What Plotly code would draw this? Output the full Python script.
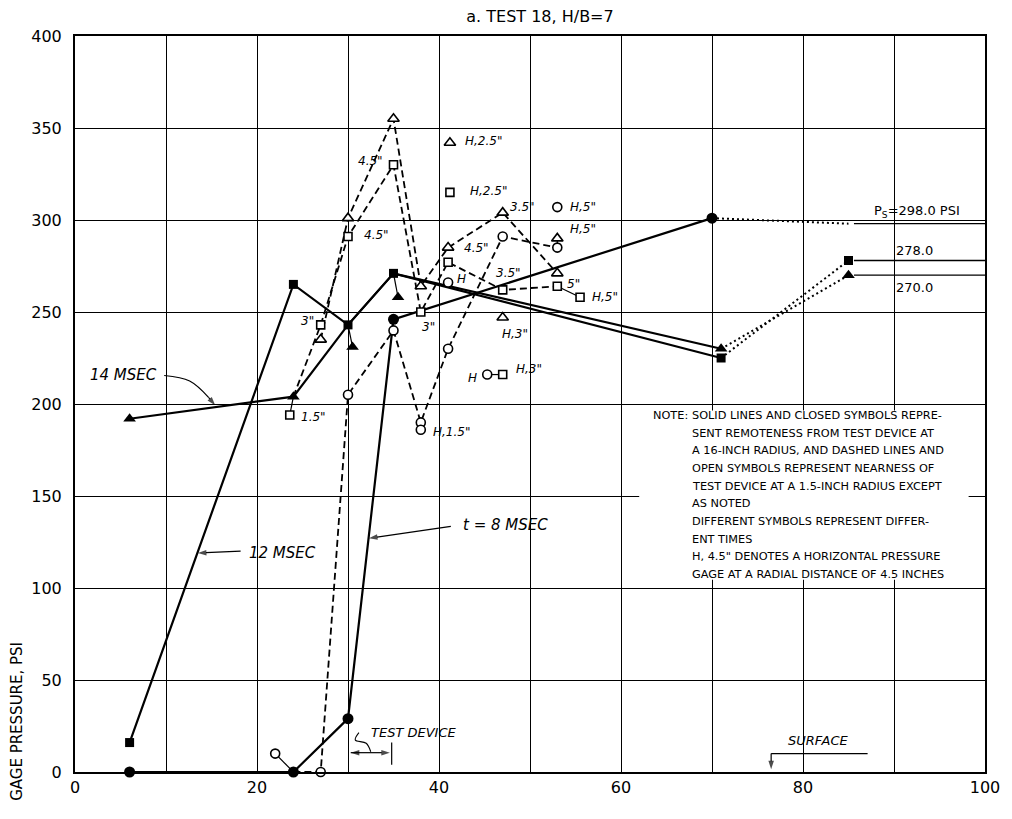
import plotly.graph_objects as go

# ---------------- data ----------------
# closed symbols, 16-inch radius (solid lines)
t8_x = [6, 24, 30, 35, 70]
t8_y = [0, 0, 29, 246, 301]
t12_x = [6, 24, 30, 35, 71]
t12_y = [16, 265, 243, 271, 225]
t14_x = [6, 24, 30, 35, 71]
t14_y = [192, 204, 243, 271, 230]

# surface readings (free-field values)
surface_x = 85
ps_t8 = 298.0
ps_t12 = 278.0
ps_t14 = 270.0

# open symbols, 1.5-inch radius (dashed lines)
oc_x = [24, 27, 30, 35, 38, 41, 47, 53]
oc_y = [0, 0, 205, 240, 190, 230, 291, 285]
ot_x = [27, 30, 35, 38, 41, 47, 53]
ot_y = [235, 301, 355, 264, 285, 304, 271]
os_x = [24, 27, 30, 35, 38, 41, 47, 53]
os_y = [204, 243, 291, 330, 250, 277, 262, 264]

# horizontal gages (stand-alone open symbols)
hc_x = [53, 41, 38, 45.3]
hc_y = [307, 266, 186, 216]
ht_x = [41.2, 53, 47]
ht_y = [342, 290, 247]
hs_x = [41.2, 47, 55.5]
hs_y = [315, 216, 258]

x_ticks = [0, 20, 40, 60, 80, 100]
x_tick_text = ["0", "20", "40", "60", "80", "100"]
y_ticks = [0, 50, 100, 150, 200, 250, 300, 350, 400]

# ---------------- drawing helpers ----------------
FONT = "DejaVu Sans"
fig = go.Figure()


def add_line(x, y, dash="solid", width=2.2, shape="linear"):
    fig.add_trace(go.Scatter(x=x, y=y, mode="lines", showlegend=False,
                             hoverinfo="skip",
                             line=dict(color="black", width=width, dash=dash,
                                       shape=shape)))


def add_marks(x, y, symbol, size, filled=True):
    fig.add_trace(go.Scatter(
        x=x, y=y, mode="markers", showlegend=False, hoverinfo="skip",
        cliponaxis=False,
        marker=dict(symbol=symbol, size=size,
                    color="black" if filled else "white",
                    line=dict(color="black", width=0 if filled else 1.6))))


def label(x, y, text, size=12, italic=True, xanchor="center"):
    fig.add_annotation(x=x, y=y, text=f"<i>{text}</i>" if italic else text,
                       showarrow=False, xanchor=xanchor, yanchor="middle",
                       font=dict(family=FONT, size=size, color="black"))


def arrow(x0, y0, x1, y1, both=False):
    """Leader line from (x0, y0) with an arrowhead at (x1, y1)."""
    fig.add_trace(go.Scatter(
        x=[x0, x1], y=[y0, y1], mode="lines+markers", showlegend=False,
        hoverinfo="skip", cliponaxis=False,
        line=dict(color="black", width=1.2),
        marker=dict(symbol="arrow", angleref="previous", color="black",
                    size=[0, 9], line=dict(width=0))))
    if both:
        fig.add_trace(go.Scatter(
            x=[x1, x0], y=[y1, y0], mode="markers", showlegend=False,
            hoverinfo="skip", cliponaxis=False,
            marker=dict(symbol="arrow", angleref="previous", color="black",
                        size=[0, 9], line=dict(width=0))))


# ---------------- dashed open-symbol series ----------------
add_line(oc_x, oc_y, dash="7px,4px", width=1.8)
add_line(ot_x, ot_y, dash="7px,4px", width=1.8)
add_line(os_x, os_y, dash="7px,4px", width=1.8)

# ---------------- solid closed-symbol series ----------------
add_line(t8_x, t8_y)
add_line(t12_x, t12_y)
add_line(t14_x, t14_y)

# dotted runs out to the surface gages
add_line([t8_x[-1], surface_x], [t8_y[-1], ps_t8], dash="2px,3px", width=2)
add_line([t12_x[-1], surface_x], [t12_y[-1], ps_t12], dash="2px,3px", width=2)
add_line([t14_x[-1], surface_x], [t14_y[-1], ps_t14], dash="2px,3px", width=2)

# free-field pressure levels
for lvl in (ps_t8, ps_t12, ps_t14):
    add_line([surface_x + 0.6, 100], [lvl, lvl], width=1.3)

# symbols shown beside a crowded point, tied back to it by a short tick
moved = [
    ("circle", False, oc_x[0], oc_y[0], 22, 10),
    ("square", False, os_x[0], os_y[0], 23.6, 194),
    ("triangle-up", True, t14_x[2], t14_y[2], 30.5, 231),
    ("triangle-up", True, t14_x[3], t14_y[3], 35.5, 258),
]
for sym, filled, px, py, dx, dy in moved:
    add_line([px, dx], [py, dy], width=1.2)

# ties between neighbouring horizontal gages
add_line([hs_x[2], os_x[-1]], [hs_y[2], os_y[-1]], width=1.2)
add_line([hc_x[3], hs_x[1]], [hc_y[3], hs_y[1]], width=1.2)
add_line([ht_x[1], oc_x[-1]], [ht_y[1], oc_y[-1]], width=1.2)
add_line([hc_x[2], oc_x[4]], [hc_y[2], oc_y[4]], width=1.2)

# open markers
add_marks(oc_x[1:], oc_y[1:], "circle", 9, filled=False)
add_marks(ot_x, ot_y, "triangle-up", 10, filled=False)
add_marks(os_x[1:], os_y[1:], "square", 8, filled=False)
add_marks(hc_x, hc_y, "circle", 9, filled=False)
add_marks(ht_x, ht_y, "triangle-up", 10, filled=False)
add_marks(hs_x, hs_y, "square", 8, filled=False)

# closed markers
add_marks(t8_x, t8_y, "circle", 11)
add_marks(t12_x + [surface_x], t12_y + [ps_t12], "square", 9)
add_marks([t14_x[i] for i in (0, 1, 4)] + [surface_x],
          [t14_y[i] for i in (0, 1, 4)] + [ps_t14], "triangle-up", 11)

for sym, filled, px, py, dx, dy in moved:
    add_marks([dx], [dy], sym, 11 if filled else (9 if sym == "circle" else 8),
              filled=filled)

# ---------------- gage labels ----------------
gage_labels = [
    (32.5, 332, '4.5"'), (33.1, 292, '4.5"'), (25.6, 245, '3"'),
    (26.2, 193, '1.5"'), (38.9, 242, '3"'), (41.4, 185, 'H,1.5"'),
    (42.5, 268, 'H'), (44.1, 285, '4.5"'), (49.2, 307, '3.5"'),
    (47.6, 271, '3.5"'), (55.8, 307, 'H,5"'), (55.8, 295, 'H,5"'),
    (54.8, 265, '5"'), (58.2, 258, 'H,5"'), (44.9, 343, 'H,2.5"'),
    (45.4, 316, 'H,2.5"'), (43.7, 214, 'H'), (49.9, 219, 'H,3"'),
    (48.4, 238, 'H,3"'),
]
for x, y, t in gage_labels:
    label(x, y, t, size=12)

# surface values
label(92.5, 304.5, f"P<sub>S</sub>={ps_t8:.1f} PSI", size=13, italic=False)
label(92.3, 283.5, f"{ps_t12:.1f}", size=13, italic=False)
label(92.3, 263.5, f"{ps_t14:.1f}", size=13, italic=False)

# time labels with leaders
label(5.3, 216, "14 MSEC", size=15)
add_line([9.8, 12.6, 14.7], [215.5, 212.5, 203.5], width=1.2, shape="spline")
arrow(14.7, 203.5, 15.4, 199.3)
label(22.8, 119, "12 MSEC", size=15)
arrow(18.2, 120, 13.5, 119)
label(47.3, 134, "t = 8 MSEC", size=15)
arrow(41.3, 133.5, 32.3, 127)

# test device span
arrow(30.3, 10.5, 34.6, 10.5, both=True)
fig.add_shape(type="line", x0=34.8, x1=34.8, y0=4, y1=16,
              line=dict(color="black", width=1.2))
add_line([31.2, 30.8, 32.0, 32.5], [21.4, 17.4, 15.6, 11], width=1.1,
         shape="spline")
label(37.3, 21.5, "TEST DEVICE", size=13)

# surface marker
fig.add_shape(type="line", x0=76.5, x1=87.1, y0=10, y1=10,
              line=dict(color="black", width=1.3))
arrow(76.5, 10, 76.5, 1.5)
label(81.6, 17, "SURFACE", size=13)

# ---------------- note box ----------------
fig.add_shape(type="rect", x0=62, x1=98.2, y0=104.5, y1=196.5,
              fillcolor="white", line=dict(width=0), layer="above")
note_lines = [
    "SOLID LINES AND CLOSED SYMBOLS REPRE-",
    "SENT REMOTENESS FROM TEST DEVICE AT",
    "A 16-INCH RADIUS, AND DASHED LINES AND",
    "OPEN SYMBOLS REPRESENT NEARNESS OF",
    "TEST DEVICE AT A 1.5-INCH RADIUS EXCEPT",
    "AS NOTED",
    "DIFFERENT SYMBOLS REPRESENT DIFFER-",
    "ENT TIMES",
    'H, 4.5" DENOTES A HORIZONTAL PRESSURE',
    "GAGE AT A RADIAL DISTANCE OF 4.5 INCHES",
]
label(63.3, 193.8, "NOTE:", size=11.3, italic=False, xanchor="left")
for i, line in enumerate(note_lines):
    label(67.6, 193.8 - 9.6 * i, line, size=11.3, italic=False,
          xanchor="left")

# ---------------- titles ----------------
fig.add_annotation(xref="paper", yref="y", x=-58 / 917, y=27.5,
                   text="GAGE PRESSURE, PSI", textangle=-90, showarrow=False,
                   xanchor="center", yanchor="middle",
                   font=dict(family=FONT, size=15, color="black"))

# ---------------- axes / layout ----------------
axis_common = dict(showline=True, mirror=True, linecolor="black", linewidth=2,
                   showgrid=True, gridcolor="black", gridwidth=1,
                   zeroline=False, ticks="",
                   tickfont=dict(family=FONT, size=16, color="black"))
fig.update_xaxes(range=[0, 100], tickmode="array", tickvals=x_ticks,
                 ticktext=x_tick_text,
                 minor=dict(dtick=10, showgrid=True, gridcolor="black",
                            gridwidth=1, ticks=""),
                 **axis_common)
fig.update_yaxes(range=[0, 400], tickmode="array", tickvals=y_ticks,
                 ticklabelstandoff=8, **axis_common)

fig.update_layout(width=1012, height=819,
                  margin=dict(l=75, r=20, t=36, b=47),
                  paper_bgcolor="white", plot_bgcolor="white",
                  font=dict(family=FONT, color="black"),
                  title=dict(text="a. TEST 18, H/B=7", x=540 / 1012,
                             xanchor="center", xref="container",
                             y=1 - 16 / 819, yanchor="middle",
                             yref="container",
                             font=dict(family=FONT, size=16, color="black")))

fig.write_html("out.html")
